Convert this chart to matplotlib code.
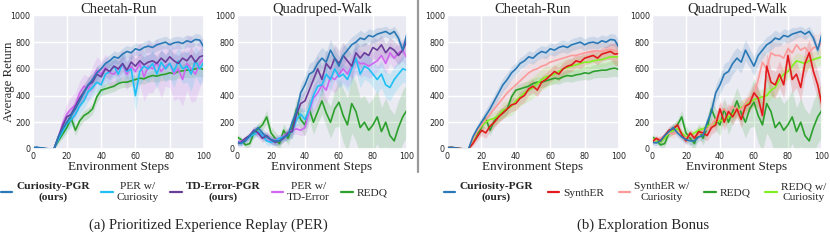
import matplotlib
matplotlib.use("Agg")
import matplotlib.pyplot as plt
import numpy as np
import seaborn as sns
from matplotlib.lines import Line2D

sns.set_theme(style="darkgrid")
plt.rcParams['font.family'] = ['DejaVu Sans']

SERIF = ['Liberation Serif', 'DejaVu Serif']

# environment steps (x axis)
steps = np.arange(0, 100.1, 2.5)

# ---------------- Cheetah-Run ----------------
ch_cpgr = [10, 12, 8, 2, 0, 0, 90, 150, 200, 250, 300, 360, 420, 480, 520, 570, 600, 640, 660, 690, 680,
           710, 730, 720, 750, 740, 760, 770, 760, 780, 790, 800, 780, 795, 800, 790, 810, 800, 820, 815, 760]
ch_redq = [8, 10, 6, 2, 0, 0, 60, 110, 160, 230, 140, 210, 250, 270, 300, 390, 440, 450, 460, 470, 490,
           500, 500, 510, 520, 530, 525, 540, 550, 545, 555, 560, 570, 565, 580, 585, 590, 590, 600, 605, 595]
ch_perc = [8, 10, 6, 2, 0, 0, 70, 130, 190, 220, 260, 320, 360, 430, 460, 500, 480, 560, 580, 620, 560,
           640, 580, 600, 400, 580, 620, 600, 640, 560, 650, 600, 640, 580, 660, 600, 620, 560, 660, 600, 650]
ch_tdpgr = [8, 10, 6, 2, 0, 0, 90, 170, 240, 260, 320, 380, 430, 480, 500, 560, 540, 600, 580, 620, 600,
            640, 590, 650, 620, 660, 630, 650, 660, 640, 680, 650, 690, 660, 640, 680, 660, 700, 650, 690, 700]
ch_pertd = [8, 10, 6, 2, 0, 0, 80, 190, 260, 300, 330, 420, 470, 450, 520, 590, 560, 610, 570, 560, 600,
            630, 560, 620, 580, 640, 540, 620, 600, 650, 580, 620, 640, 560, 600, 520, 640, 600, 560, 640, 680]
ch_synther = [10, 12, 8, 3, 0, 0, 40, 90, 140, 120, 170, 200, 240, 270, 300, 330, 340, 380, 400, 450, 470,
              440, 500, 520, 550, 580, 560, 600, 620, 630, 660, 650, 680, 690, 700, 680, 710, 720, 730, 710, 715]
ch_syntherc = [8, 10, 6, 2, 0, 0, 70, 130, 180, 220, 260, 300, 340, 380, 420, 450, 480, 510, 540, 570, 590,
               600, 620, 630, 650, 660, 670, 680, 690, 700, 700, 710, 720, 725, 730, 735, 730, 740, 745, 735, 730]
ch_redqc = [8, 10, 6, 2, 0, 0, 60, 130, 170, 200, 220, 230, 250, 290, 300, 320, 360, 390, 420, 440, 460,
            490, 520, 540, 550, 560, 580, 600, 610, 620, 630, 640, 650, 650, 660, 665, 670, 680, 690, 690, 690]

ch_cpgr_sd = [5, 5, 5, 2, 0, 0, 20, 30, 40, 45, 50, 50, 50, 50, 50, 50, 45, 45, 45, 45, 45,
              45, 45, 45, 45, 45, 45, 45, 45, 45, 45, 45, 45, 45, 45, 45, 45, 45, 45, 45, 50]
ch_redq_sd = [5, 5, 5, 2, 0, 0, 20, 30, 40, 40, 40, 40, 40, 40, 40, 40, 40, 40, 40, 40, 40,
              40, 40, 40, 40, 40, 40, 40, 45, 45, 45, 45, 50, 50, 50, 50, 55, 55, 60, 60, 60]
ch_perc_sd = [5, 5, 5, 2, 0, 0, 20, 40, 50, 60, 60, 60, 60, 70, 70, 70, 80, 80, 80, 80, 80,
              90, 90, 90, 120, 100, 100, 100, 100, 110, 100, 100, 110, 120, 100, 110, 120, 130, 110, 120, 120]
ch_tdpgr_sd = [5, 5, 5, 2, 0, 0, 20, 40, 50, 50, 60, 60, 60, 60, 60, 60, 60, 60, 60, 60, 60,
               60, 60, 60, 60, 60, 60, 60, 60, 60, 60, 60, 60, 60, 60, 60, 60, 60, 60, 60, 60]
ch_pertd_sd = [5, 5, 5, 2, 0, 0, 30, 60, 80, 90, 90, 90, 90, 90, 100, 100, 100, 100, 100, 100, 100,
               110, 120, 120, 150, 160, 180, 200, 180, 170, 200, 150, 180, 200, 220, 200, 200, 250, 200, 180, 150]
ch_synther_sd = [5, 5, 5, 2, 0, 0, 20, 30, 40, 40, 40, 40, 45, 45, 45, 50, 50, 50, 50, 50, 50,
                 50, 50, 50, 50, 50, 50, 50, 50, 50, 50, 50, 50, 50, 50, 50, 50, 50, 60, 80, 100]
ch_syntherc_sd = [5, 5, 5, 2, 0, 0, 20, 30, 40, 50, 60, 60, 60, 70, 70, 70, 70, 70, 70, 70, 70,
                  70, 70, 70, 70, 70, 70, 70, 70, 70, 70, 70, 70, 70, 70, 70, 70, 70, 70, 70, 70]
ch_redqc_sd = [5, 5, 5, 2, 0, 0, 20, 30, 40, 40, 50, 50, 50, 60, 60, 70, 70, 70, 80, 80, 80,
               80, 80, 80, 70, 70, 70, 70, 70, 60, 60, 60, 60, 60, 60, 60, 60, 60, 60, 60, 60]

# ---------------- Quadruped-Walk ----------------
qw_cpgr = [50, 45, 60, 100, 130, 160, 120, 90, 70, 60, 60, 90, 100, 200, 280, 420, 480, 560, 580, 640, 680,
           650, 740, 680, 620, 700, 740, 780, 800, 830, 820, 850, 840, 860, 870, 880, 860, 880, 830, 740, 860]
qw_redq = [90, 70, 30, 40, 120, 150, 180, 240, 120, 80, 40, 140, 80, 160, 300, 220, 180, 300, 200, 280, 360,
           270, 200, 300, 350, 250, 180, 340, 280, 160, 200, 140, 180, 240, 130, 200, 100, 60, 160, 240, 290]
qw_perc = [50, 40, 70, 90, 110, 130, 100, 60, 50, 60, 80, 90, 110, 130, 220, 260, 220, 300, 400, 470, 480,
           560, 520, 600, 540, 560, 520, 600, 680, 560, 620, 600, 560, 520, 560, 480, 460, 520, 560, 600, 590]
qw_tdpgr = [40, 50, 80, 100, 140, 120, 80, 100, 70, 50, 60, 80, 120, 130, 260, 340, 360, 440, 520, 600, 520,
            640, 600, 680, 640, 700, 660, 620, 720, 680, 720, 700, 760, 740, 780, 720, 760, 740, 700, 740, 810]
qw_pertd = [50, 60, 70, 100, 140, 110, 100, 90, 60, 70, 80, 100, 120, 140, 150, 140, 160, 280, 380, 420, 480,
            440, 540, 520, 560, 600, 560, 620, 660, 640, 640, 620, 640, 660, 700, 640, 720, 680, 720, 740, 680]
qw_synther = [50, 80, 60, 100, 140, 150, 180, 110, 60, 120, 80, 130, 120, 100, 160, 180, 300, 200, 280, 240, 300,
              220, 320, 340, 420, 380, 250, 620, 500, 480, 560, 480, 700, 520, 560, 460, 640, 720, 580, 480, 330]
qw_syntherc = [60, 70, 80, 100, 120, 110, 130, 100, 80, 100, 90, 110, 130, 150, 180, 220, 280, 300, 260, 320, 280,
               300, 340, 380, 400, 520, 650, 600, 720, 700, 700, 680, 750, 720, 780, 740, 760, 720, 760, 760, 800]
qw_redqc = [80, 60, 50, 80, 120, 140, 150, 120, 90, 100, 120, 140, 150, 170, 180, 200, 210, 220, 240, 260, 290,
            310, 330, 350, 370, 380, 390, 400, 440, 460, 520, 560, 580, 620, 660, 650, 640, 660, 670, 680, 690]

qw_cpgr_sd = [20, 20, 20, 25, 30, 30, 30, 30, 30, 30, 30, 30, 40, 50, 60, 60, 70, 80, 80, 80, 80,
              80, 80, 70, 70, 70, 60, 60, 60, 60, 50, 50, 50, 50, 40, 40, 40, 40, 40, 40, 40]
qw_redq_sd = [20, 20, 20, 25, 30, 40, 40, 50, 50, 50, 50, 50, 50, 60, 80, 80, 80, 80, 90, 90, 100,
              100, 120, 140, 180, 200, 200, 220, 220, 220, 200, 200, 200, 200, 180, 180, 200, 200, 200, 200, 200]
qw_perc_sd = [20, 20, 20, 25, 30, 30, 30, 30, 30, 30, 30, 30, 40, 50, 60, 60, 70, 80, 80, 80, 80,
              80, 80, 80, 80, 80, 90, 100, 100, 100, 100, 100, 100, 100, 100, 100, 100, 100, 100, 100, 100]
qw_tdpgr_sd = [20, 20, 20, 25, 30, 30, 30, 30, 30, 30, 30, 30, 40, 50, 60, 60, 80, 100, 100, 100, 100,
               100, 100, 100, 100, 100, 90, 90, 90, 90, 80, 80, 80, 80, 70, 70, 70, 70, 70, 70, 70]
qw_pertd_sd = [20, 20, 20, 25, 30, 30, 30, 30, 30, 30, 30, 30, 30, 30, 40, 40, 60, 80, 100, 100, 100,
               100, 100, 100, 100, 100, 100, 100, 100, 100, 90, 90, 90, 80, 80, 80, 80, 80, 80, 80, 80]
qw_synther_sd = [20, 20, 20, 25, 30, 30, 30, 30, 30, 30, 30, 30, 40, 40, 50, 50, 60, 60, 60, 60, 60,
                 60, 60, 60, 80, 80, 80, 100, 100, 100, 100, 100, 100, 100, 100, 100, 100, 100, 100, 100, 100]
qw_syntherc_sd = [20, 20, 20, 25, 30, 30, 30, 30, 30, 30, 30, 30, 40, 40, 50, 50, 60, 60, 60, 60, 60,
                  60, 60, 60, 80, 80, 80, 100, 100, 100, 100, 100, 100, 100, 100, 100, 100, 100, 100, 100, 100]
qw_redqc_sd = [20, 20, 20, 25, 30, 30, 30, 30, 30, 30, 30, 30, 30, 30, 30, 30, 40, 40, 40, 40, 50,
               50, 50, 50, 60, 60, 60, 60, 60, 60, 60, 60, 60, 60, 60, 60, 60, 60, 60, 60, 60]

C_CPGR = '#2a78b5'
C_PERC = '#1ec0f5'
C_TDPGR = '#6a3d9a'
C_PERTD = '#d066f0'
C_REDQ = '#2ca02c'
C_SYN = '#e31a1c'
C_SYNC = '#fb9a99'
C_REDQC = '#80f020'

panels = [
    ("Cheetah-Run", [(ch_redq, ch_redq_sd, C_REDQ), (ch_pertd, ch_pertd_sd, C_PERTD),
                     (ch_perc, ch_perc_sd, C_PERC), (ch_tdpgr, ch_tdpgr_sd, C_TDPGR),
                     (ch_cpgr, ch_cpgr_sd, C_CPGR)]),
    ("Quadruped-Walk", [(qw_redq, qw_redq_sd, C_REDQ), (qw_pertd, qw_pertd_sd, C_PERTD),
                        (qw_perc, qw_perc_sd, C_PERC), (qw_tdpgr, qw_tdpgr_sd, C_TDPGR),
                        (qw_cpgr, qw_cpgr_sd, C_CPGR)]),
    ("Cheetah-Run", [(ch_redq, ch_redq_sd, C_REDQ), (ch_redqc, ch_redqc_sd, C_REDQC),
                     (ch_syntherc, ch_syntherc_sd, C_SYNC), (ch_synther, ch_synther_sd, C_SYN),
                     (ch_cpgr, ch_cpgr_sd, C_CPGR)]),
    ("Quadruped-Walk", [(qw_redq, qw_redq_sd, C_REDQ), (qw_redqc, qw_redqc_sd, C_REDQC),
                        (qw_syntherc, qw_syntherc_sd, C_SYNC), (qw_synther, qw_synther_sd, C_SYN),
                        (qw_cpgr, qw_cpgr_sd, C_CPGR)]),
]

fig = plt.figure(figsize=(8.3, 2.41), dpi=100)
lefts = [0.0392, 0.2855, 0.5386, 0.7855]
widths = [0.2066, 0.2048, 0.2072, 0.2048]

for i, (title, curves) in enumerate(panels):
    ax = fig.add_axes([lefts[i], 0.382, widths[i], 0.554])
    for mean, sd, col in curves:
        m = np.array(mean, dtype=float)
        s = np.array(sd, dtype=float)
        ax.fill_between(steps, m - s, m + s, color=col, alpha=0.16, linewidth=0)
        ax.plot(steps, m, color=col, linewidth=1.2)
    ax.set_xlim(0, 100)
    ax.set_ylim(0, 1000)
    ax.set_xticks([0, 20, 40, 60, 80, 100])
    ax.set_yticks([0, 200, 400, 600, 800, 1000])
    ax.tick_params(axis='both', labelsize=5.8, length=0)
    ax.tick_params(axis='x', pad=2.5)
    ax.tick_params(axis='y', pad=1.5)
    ax.set_title(title, family=SERIF, fontsize=10.5, pad=2)
    ax.set_xlabel("Environment Steps", family=SERIF, fontsize=9.5, labelpad=0)
    if i == 0:
        ax.set_ylabel("Average Return", family=SERIF, fontsize=9.2)
        ax.yaxis.set_label_coords(-0.105, 0.5)

# separator between (a) and (b)
fig.add_artist(Line2D([0.5036, 0.5036], [0.285, 1.0], color='#999999', linewidth=1.6))

def make_legend(labels, colors, bold, anchor, colsp):
    handles = [Line2D([], [], color=c, linewidth=1.6) for c in colors]
    leg = fig.legend(handles, labels, loc='center', bbox_to_anchor=anchor, ncol=5,
                     frameon=False, prop={'family': SERIF, 'size': 8.2},
                     handlelength=1.0, handletextpad=0.35, columnspacing=colsp,
                     borderpad=0, borderaxespad=0)
    for t, b in zip(leg.get_texts(), bold):
        t.set_multialignment('center')
        if b:
            t.set_fontweight('bold')
    return leg

make_legend(["Curiosity-PGR\n(ours)", "PER w/\nCuriosity", "TD-Error-PGR\n(ours)", "PER w/\nTD-Error", "REDQ"],
            [C_CPGR, C_PERC, C_TDPGR, C_PERTD, C_REDQ],
            [True, False, True, False, False], (0.234, 0.203), 1.0)
make_legend(["Curiosity-PGR\n(ours)", "SynthER", "SynthER w/\nCuriosity", "REDQ", "REDQ w/\nCuriosity"],
            [C_CPGR, C_SYN, C_SYNC, C_REDQ, C_REDQC],
            [True, False, False, False, False], (0.765, 0.203), 1.3)

fig.text(0.251, 0.066, "(a) Prioritized Experience Replay (PER)", family=SERIF, fontsize=10.6, ha='center', va='center')
fig.text(0.775, 0.066, "(b) Exploration Bonus", family=SERIF, fontsize=10.6, ha='center', va='center')

fig.savefig("out.png", dpi=100)
